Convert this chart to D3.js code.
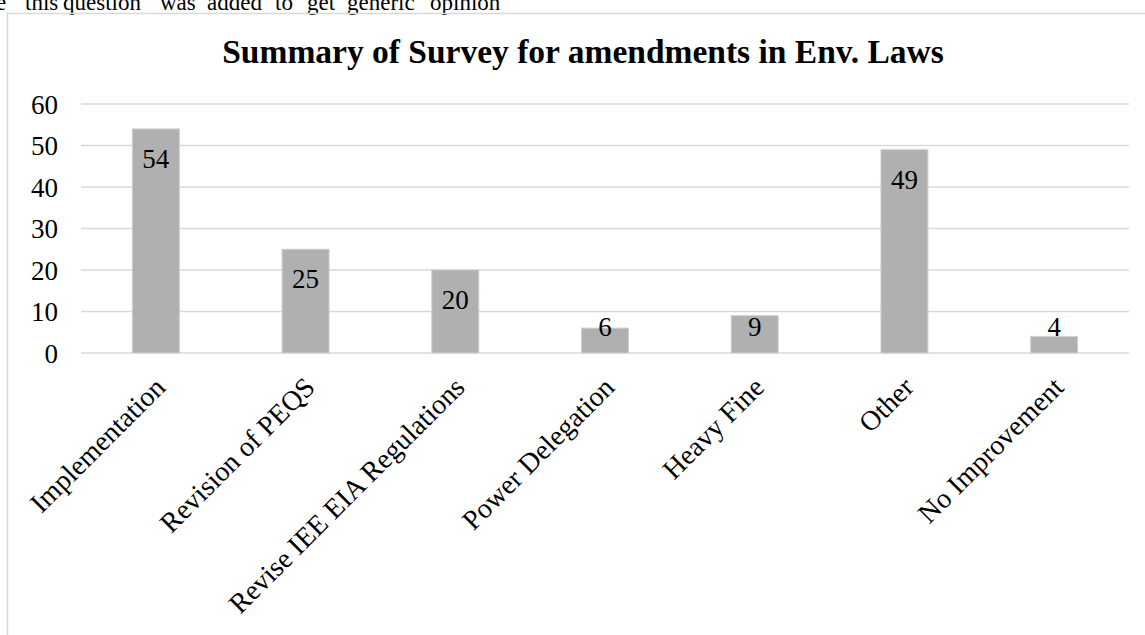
<!DOCTYPE html>
<html>
<head>
<meta charset="utf-8">
<script src="https://cdn.jsdelivr.net/npm/d3@7"></script>
<style>
  body { margin: 0; background: #fff; }
  svg { display: block; }
</style>
</head>
<body>
<div id="chart"></div>
<script>
// data
var categories = ["Implementation", "Revision of PEQS", "Revise IEE EIA Regulations",
  "Power Delegation", "Heavy Fine", "Other", "No Improvement"];
var counts = [54, 25, 20, 6, 9, 49, 4];
var yTicks = [0, 10, 20, 30, 40, 50, 60];
var chartTitle = "Summary of Survey for amendments in Env. Laws";
var noteWords = ["e", "this", "question", "was", "added", "to", "get", "generic", "opinion"];
var noteX = [-4, 25, 63, 160, 207, 275, 307, 347, 430];

var width = 1145,
  height = 635,
  plotLeft = 81,
  plotRight = 1129,
  plotTop = 104,
  plotBottom = 353,
  serif = "'Liberation Serif', 'Times New Roman', serif";

var svg = d3.select("#chart").append("svg")
  .attr("width", width)
  .attr("height", height)
  .attr("font-family", serif);

// clipped line of page text above the chart
svg.append("text")
  .attr("y", 10)
  .attr("font-size", 23)
  .selectAll("tspan")
  .data(noteWords)
  .enter().append("tspan")
  .attr("x", function(d, i) { return noteX[i]; })
  .text(function(d) { return d; });

// chart frame (runs off the right and bottom edges)
svg.append("rect")
  .attr("x", 7.5)
  .attr("y", 13.5)
  .attr("width", 1160)
  .attr("height", 660)
  .attr("fill", "none")
  .attr("stroke", "#d9d9d9")
  .attr("stroke-width", 1.5);

svg.append("text")
  .attr("x", 583)
  .attr("y", 63)
  .attr("text-anchor", "middle")
  .attr("font-size", 33.5)
  .attr("font-weight", "bold")
  .text(chartTitle);

var x = d3.scaleBand()
  .domain(categories)
  .range([plotLeft, plotRight])
  .paddingInner(0.686)
  .paddingOuter(0.343);

var y = d3.scaleLinear()
  .domain([0, 60])
  .range([plotBottom, plotTop]);

//gridlines
svg.append("g")
  .selectAll("line")
  .data(yTicks)
  .enter().append("line")
  .attr("x1", plotLeft)
  .attr("x2", plotRight)
  .attr("y1", function(d) { return y(d); })
  .attr("y2", function(d) { return y(d); })
  .attr("stroke", "#d9d9d9")
  .attr("stroke-width", 1.5);

//y axis labels
var yAxis = d3.axisLeft(y).tickValues(yTicks).tickSize(0).tickPadding(0);
var gy = svg.append("g")
  .attr("transform", "translate(58,0)")
  .call(yAxis)
  .attr("font-family", serif)
  .attr("font-size", 27);
gy.select(".domain").remove();
gy.selectAll("text")
  .attr("fill", "#000")
  .attr("dy", "0.34em");

//bars
svg.append("g")
  .selectAll("rect")
  .data(counts)
  .enter().append("rect")
  .attr("x", function(d, i) { return x(categories[i]); })
  .attr("y", function(d) { return y(d); })
  .attr("width", x.bandwidth())
  .attr("height", function(d) { return y(0) - y(d); })
  .attr("fill", "#b0b0b0")
  .attr("stroke", "#d0d0d0")
  .attr("stroke-width", 1);

//value labels, inside end but kept above the base line
svg.append("g")
  .attr("font-size", 27)
  .selectAll("text")
  .data(counts)
  .enter().append("text")
  .attr("x", function(d, i) { return x(categories[i]) + x.bandwidth() / 2; })
  .attr("y", function(d) { return Math.min(y(d) + 39, y(0) - 17); })
  .attr("text-anchor", "middle")
  .attr("fill", "#000")
  .text(function(d) { return d; });

//rotated category labels
var xAxis = d3.axisBottom(x).tickSize(0).tickPadding(0);
var gx = svg.append("g")
  .attr("transform", "translate(0," + plotBottom + ")")
  .call(xAxis)
  .attr("font-family", serif)
  .attr("font-size", 28);
gx.select(".domain").remove();
gx.selectAll("text")
  .attr("fill", "#000")
  .attr("text-anchor", "end")
  .attr("y", 0)
  .attr("dy", 0)
  .attr("transform", "translate(11,36) rotate(-45)");
</script>
</body>
</html>
